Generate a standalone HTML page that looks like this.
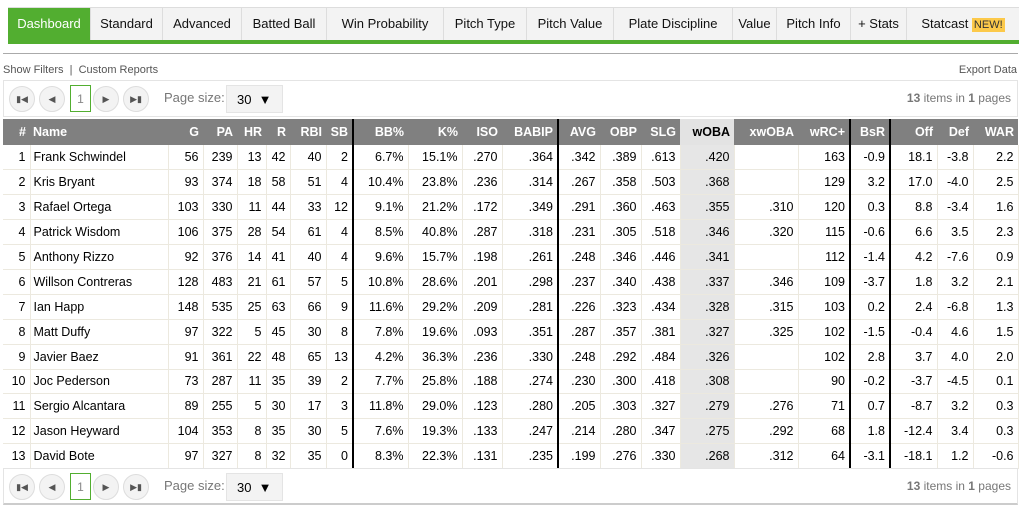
<!DOCTYPE html>
<html><head><meta charset="utf-8"><style>
*{box-sizing:border-box;margin:0;padding:0}
body{width:1023px;height:511px;background:#fff;font-family:"Liberation Sans",Arial,sans-serif;position:relative;overflow:hidden;color:#000}
.tabs{position:absolute;left:8px;top:7px;width:1011px;height:33px;display:flex;border-top:1px solid #ddd}
.tab{height:33px;line-height:32px;font-size:13px;text-align:center;background:#f3f3f3;border-right:1px solid #ddd;color:#111}
.tab.on{background:#52ae30;color:#fff}
.green{position:absolute;left:8px;top:40px;width:1011px;height:4px;background:#52ae30}
.gline{position:absolute;left:3px;top:53px;width:1015px;height:1px;background:#aaa}
.links{position:absolute;left:3px;top:64px;font-size:11px;color:#555}
.exp{position:absolute;right:6px;top:64px;font-size:11px;color:#555}
.pager{position:absolute;left:3px;width:1015px;height:37px;border:1px solid #e4e4e4;background:#fff}
.btn{position:absolute;top:5px;width:26px;height:26px;border-radius:13px;border:1px solid #ddd;background:#f3f3f3;font-size:9px;color:#555;text-align:center;line-height:25px}
.pg{position:absolute;left:66px;top:4px;width:21px;height:27px;border:1px solid #52ae30;font-size:12px;color:#888;text-align:center;line-height:26px}
.ps{position:absolute;left:160px;top:9px;font-size:13px;color:#777}
.sel{position:absolute;left:222px;top:4px;width:57px;height:28px;background:#f3f3f3;border:1px solid #e4e4e4;font-size:13px;line-height:27px;padding-left:10px}
.items{position:absolute;right:6px;top:10px;font-size:12px;color:#777}
table{position:absolute;left:3px;top:119px;border-collapse:collapse;table-layout:fixed;width:1015px}
th{background:#808080;color:#fff;font-size:12.5px;font-weight:bold;height:26px;text-align:right;padding-right:4px}
td{font-size:12.5px;height:24.9px;text-align:right;padding-right:4px;border-right:1px solid #ece9df;border-bottom:1px solid #ece9df}
th.w{background:#e3e3e3;color:#000}
td.w{background:#e6e6e6}
.nm{text-align:left;padding-left:3px}
.tk{border-right:2px solid #000!important}
</style></head><body>
<div class="tabs">
<div class="tab on" style="width:83px">Dashboard</div>
<div class="tab" style="width:72px">Standard</div>
<div class="tab" style="width:79px">Advanced</div>
<div class="tab" style="width:85px">Batted Ball</div>
<div class="tab" style="width:117px">Win Probability</div>
<div class="tab" style="width:83px">Pitch Type</div>
<div class="tab" style="width:87px">Pitch Value</div>
<div class="tab" style="width:119px">Plate Discipline</div>
<div class="tab" style="width:44px">Value</div>
<div class="tab" style="width:74px">Pitch Info</div>
<div class="tab" style="width:56px">+ Stats</div>
<div class="tab" style="width:112px;border-right:none">Statcast <span style="background:#fcc94a;font-size:11px;padding:1px 2px;color:#333">NEW!</span></div>
</div>
<div class="green"></div>
<div class="gline"></div>
<div class="links">Show Filters &nbsp;|&nbsp; Custom Reports</div>
<div class="exp">Export Data</div>

<div class="pager" style="top:80px">
<div class="btn" style="left:5px">&#9646;&#9664;</div><div class="btn" style="left:35px">&#9664;</div><div class="pg">1</div><div class="btn" style="left:89px">&#9654;</div><div class="btn" style="left:119px">&#9654;&#9646;</div>
<div class="ps">Page size:</div><div class="sel">30 &nbsp;&#9660;</div>
<div class="items"><b>13</b> items in <b>1</b> pages</div>
</div>

<table>
<colgroup>
<col style="width:27px"><col style="width:138px"><col style="width:35px"><col style="width:34px"><col style="width:29px"><col style="width:24px"><col style="width:36px"><col style="width:27px"><col style="width:55px"><col style="width:54px"><col style="width:40px"><col style="width:56px"><col style="width:42px"><col style="width:41px"><col style="width:39px"><col style="width:54px"><col style="width:64px"><col style="width:52px"><col style="width:40px"><col style="width:47px"><col style="width:36px"><col style="width:45px">
</colgroup>
<tr><th>#</th><th class="nm">Name</th><th>G</th><th>PA</th><th>HR</th><th>R</th><th>RBI</th><th class="tk">SB</th><th>BB%</th><th>K%</th><th>ISO</th><th class="tk">BABIP</th><th>AVG</th><th>OBP</th><th>SLG</th><th class="w">wOBA</th><th>xwOBA</th><th class="tk">wRC+</th><th class="tk">BsR</th><th>Off</th><th>Def</th><th>WAR</th></tr>
<tr><td>1</td><td class="nm">Frank Schwindel</td><td>56</td><td>239</td><td>13</td><td>42</td><td>40</td><td class="tk">2</td><td>6.7%</td><td>15.1%</td><td>.270</td><td class="tk">.364</td><td>.342</td><td>.389</td><td>.613</td><td class="w">.420</td><td></td><td class="tk">163</td><td class="tk">-0.9</td><td>18.1</td><td>-3.8</td><td>2.2</td></tr>
<tr><td>2</td><td class="nm">Kris Bryant</td><td>93</td><td>374</td><td>18</td><td>58</td><td>51</td><td class="tk">4</td><td>10.4%</td><td>23.8%</td><td>.236</td><td class="tk">.314</td><td>.267</td><td>.358</td><td>.503</td><td class="w">.368</td><td></td><td class="tk">129</td><td class="tk">3.2</td><td>17.0</td><td>-4.0</td><td>2.5</td></tr>
<tr><td>3</td><td class="nm">Rafael Ortega</td><td>103</td><td>330</td><td>11</td><td>44</td><td>33</td><td class="tk">12</td><td>9.1%</td><td>21.2%</td><td>.172</td><td class="tk">.349</td><td>.291</td><td>.360</td><td>.463</td><td class="w">.355</td><td>.310</td><td class="tk">120</td><td class="tk">0.3</td><td>8.8</td><td>-3.4</td><td>1.6</td></tr>
<tr><td>4</td><td class="nm">Patrick Wisdom</td><td>106</td><td>375</td><td>28</td><td>54</td><td>61</td><td class="tk">4</td><td>8.5%</td><td>40.8%</td><td>.287</td><td class="tk">.318</td><td>.231</td><td>.305</td><td>.518</td><td class="w">.346</td><td>.320</td><td class="tk">115</td><td class="tk">-0.6</td><td>6.6</td><td>3.5</td><td>2.3</td></tr>
<tr><td>5</td><td class="nm">Anthony Rizzo</td><td>92</td><td>376</td><td>14</td><td>41</td><td>40</td><td class="tk">4</td><td>9.6%</td><td>15.7%</td><td>.198</td><td class="tk">.261</td><td>.248</td><td>.346</td><td>.446</td><td class="w">.341</td><td></td><td class="tk">112</td><td class="tk">-1.4</td><td>4.2</td><td>-7.6</td><td>0.9</td></tr>
<tr><td>6</td><td class="nm">Willson Contreras</td><td>128</td><td>483</td><td>21</td><td>61</td><td>57</td><td class="tk">5</td><td>10.8%</td><td>28.6%</td><td>.201</td><td class="tk">.298</td><td>.237</td><td>.340</td><td>.438</td><td class="w">.337</td><td>.346</td><td class="tk">109</td><td class="tk">-3.7</td><td>1.8</td><td>3.2</td><td>2.1</td></tr>
<tr><td>7</td><td class="nm">Ian Happ</td><td>148</td><td>535</td><td>25</td><td>63</td><td>66</td><td class="tk">9</td><td>11.6%</td><td>29.2%</td><td>.209</td><td class="tk">.281</td><td>.226</td><td>.323</td><td>.434</td><td class="w">.328</td><td>.315</td><td class="tk">103</td><td class="tk">0.2</td><td>2.4</td><td>-6.8</td><td>1.3</td></tr>
<tr><td>8</td><td class="nm">Matt Duffy</td><td>97</td><td>322</td><td>5</td><td>45</td><td>30</td><td class="tk">8</td><td>7.8%</td><td>19.6%</td><td>.093</td><td class="tk">.351</td><td>.287</td><td>.357</td><td>.381</td><td class="w">.327</td><td>.325</td><td class="tk">102</td><td class="tk">-1.5</td><td>-0.4</td><td>4.6</td><td>1.5</td></tr>
<tr><td>9</td><td class="nm">Javier Baez</td><td>91</td><td>361</td><td>22</td><td>48</td><td>65</td><td class="tk">13</td><td>4.2%</td><td>36.3%</td><td>.236</td><td class="tk">.330</td><td>.248</td><td>.292</td><td>.484</td><td class="w">.326</td><td></td><td class="tk">102</td><td class="tk">2.8</td><td>3.7</td><td>4.0</td><td>2.0</td></tr>
<tr><td>10</td><td class="nm">Joc Pederson</td><td>73</td><td>287</td><td>11</td><td>35</td><td>39</td><td class="tk">2</td><td>7.7%</td><td>25.8%</td><td>.188</td><td class="tk">.274</td><td>.230</td><td>.300</td><td>.418</td><td class="w">.308</td><td></td><td class="tk">90</td><td class="tk">-0.2</td><td>-3.7</td><td>-4.5</td><td>0.1</td></tr>
<tr><td>11</td><td class="nm">Sergio Alcantara</td><td>89</td><td>255</td><td>5</td><td>30</td><td>17</td><td class="tk">3</td><td>11.8%</td><td>29.0%</td><td>.123</td><td class="tk">.280</td><td>.205</td><td>.303</td><td>.327</td><td class="w">.279</td><td>.276</td><td class="tk">71</td><td class="tk">0.7</td><td>-8.7</td><td>3.2</td><td>0.3</td></tr>
<tr><td>12</td><td class="nm">Jason Heyward</td><td>104</td><td>353</td><td>8</td><td>35</td><td>30</td><td class="tk">5</td><td>7.6%</td><td>19.3%</td><td>.133</td><td class="tk">.247</td><td>.214</td><td>.280</td><td>.347</td><td class="w">.275</td><td>.292</td><td class="tk">68</td><td class="tk">1.8</td><td>-12.4</td><td>3.4</td><td>0.3</td></tr>
<tr><td>13</td><td class="nm">David Bote</td><td>97</td><td>327</td><td>8</td><td>32</td><td>35</td><td class="tk">0</td><td>8.3%</td><td>22.3%</td><td>.131</td><td class="tk">.235</td><td>.199</td><td>.276</td><td>.330</td><td class="w">.268</td><td>.312</td><td class="tk">64</td><td class="tk">-3.1</td><td>-18.1</td><td>1.2</td><td>-0.6</td></tr>
</table>

<div class="pager" style="top:468px;border-bottom:2px solid #ccc">
<div class="btn" style="left:5px">&#9646;&#9664;</div><div class="btn" style="left:35px">&#9664;</div><div class="pg">1</div><div class="btn" style="left:89px">&#9654;</div><div class="btn" style="left:119px">&#9654;&#9646;</div>
<div class="ps">Page size:</div><div class="sel">30 &nbsp;&#9660;</div>
<div class="items"><b>13</b> items in <b>1</b> pages</div>
</div>
</body></html>
